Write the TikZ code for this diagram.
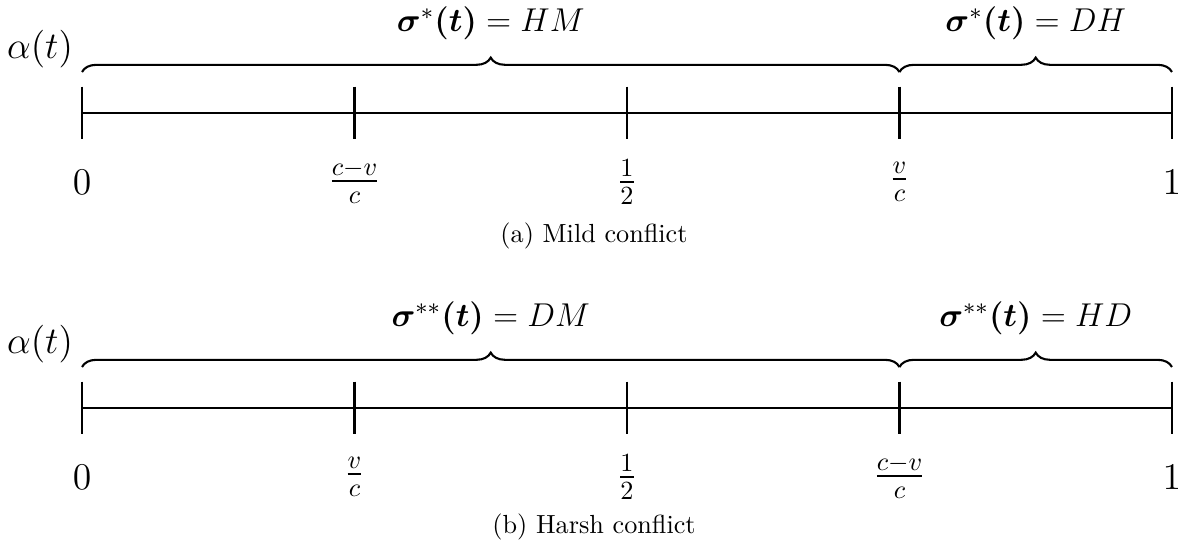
\RequirePackage{fix-cm}
\documentclass[tikz,border=0pt]{standalone}
\usepackage{amsmath}
\usetikzlibrary{positioning, decorations.pathreplacing, calc}

\begin{document}
\begin{tikzpicture}[
        axis/.style={thick},
        tickmark/.style={thick},
        ticklabel/.style={font=\Large},
        brace/.style={thick, decorate, decoration={brace, amplitude=5.5pt}},
        bracelabel/.style={midway, yshift=0.66cm, font=\fontsize{12.6}{15}\selectfont},
        varlabel/.style={font=\Large}
    ]
    \useasboundingbox (-1.100,1.516) rectangle (14.755,-5.889);

    % Mild conflict: points on the line
    \coordinate (a0) at (0,0);
    \coordinate (a1) at (3.655,0);
    \coordinate (a2) at (7.31,0);
    \coordinate (a3) at (10.965,0);
    \coordinate (a4) at (14.62,0);

    \draw[axis] (a0) -- (a4);
    \draw[tickmark] ([yshift=0.355cm]a0) -- ([yshift=-0.355cm]a0);
    \draw[tickmark] ([yshift=0.355cm]a1) -- ([yshift=-0.355cm]a1);
    \draw[tickmark] ([yshift=0.355cm]a2) -- ([yshift=-0.355cm]a2);
    \draw[tickmark] ([yshift=0.355cm]a3) -- ([yshift=-0.355cm]a3);
    \draw[tickmark] ([yshift=0.355cm]a4) -- ([yshift=-0.355cm]a4);

    \node[ticklabel] (la0) at ([yshift=-0.926cm]a0) {$0$};
    \node[ticklabel] (la1) at ([yshift=-0.926cm]a1) {$\frac{c-v}{c}$};
    \node[ticklabel] (la2) at ([yshift=-0.926cm]a2) {$\frac{1}{2}$};
    \node[ticklabel] (la3) at ([yshift=-0.926cm]a3) {$\frac{v}{c}$};
    \node[ticklabel] (la4) at ([yshift=-0.926cm]a4) {$1$};

    \node[varlabel] (alphaa) at (-0.563,0.858) {$\alpha(t)$};

    \draw[brace] ([yshift=0.55cm]a0) -- ([yshift=0.55cm]a3)
        node[bracelabel] (sa1) {$\boldsymbol{\sigma}^{*}\boldsymbol{(t)} = HM$};
    \draw[brace] ([yshift=0.55cm]a3) -- ([yshift=0.55cm]a4)
        node[bracelabel] (sa2) {$\boldsymbol{\sigma}^{*}\boldsymbol{(t)} = DH$};

    \node (capa) at (6.868,-1.650) {(a) Mild conflict};

    % Harsh conflict: points on the line
    \coordinate (b0) at (0,-3.957);
    \coordinate (b1) at (3.655,-3.957);
    \coordinate (b2) at (7.31,-3.957);
    \coordinate (b3) at (10.965,-3.957);
    \coordinate (b4) at (14.62,-3.957);

    \draw[axis] (b0) -- (b4);
    \draw[tickmark] ([yshift=0.355cm]b0) -- ([yshift=-0.355cm]b0);
    \draw[tickmark] ([yshift=0.355cm]b1) -- ([yshift=-0.355cm]b1);
    \draw[tickmark] ([yshift=0.355cm]b2) -- ([yshift=-0.355cm]b2);
    \draw[tickmark] ([yshift=0.355cm]b3) -- ([yshift=-0.355cm]b3);
    \draw[tickmark] ([yshift=0.355cm]b4) -- ([yshift=-0.355cm]b4);

    \node[ticklabel] (lb0) at ([yshift=-0.926cm]b0) {$0$};
    \node[ticklabel] (lb1) at ([yshift=-0.926cm]b1) {$\frac{v}{c}$};
    \node[ticklabel] (lb2) at ([yshift=-0.926cm]b2) {$\frac{1}{2}$};
    \node[ticklabel] (lb3) at ([yshift=-0.926cm]b3) {$\frac{c-v}{c}$};
    \node[ticklabel] (lb4) at ([yshift=-0.926cm]b4) {$1$};

    \node[varlabel] (alphab) at (-0.563,-3.099) {$\alpha(t)$};

    \draw[brace] ([yshift=0.55cm]b0) -- ([yshift=0.55cm]b3)
        node[bracelabel] (sb1) {$\boldsymbol{\sigma}^{**}\boldsymbol{(t)} = DM$};
    \draw[brace] ([yshift=0.55cm]b3) -- ([yshift=0.55cm]b4)
        node[bracelabel] (sb2) {$\boldsymbol{\sigma}^{**}\boldsymbol{(t)} = HD$};

    \node (capb) at (6.868,-5.553) {(b) Harsh conflict};

\end{tikzpicture}
\end{document}
